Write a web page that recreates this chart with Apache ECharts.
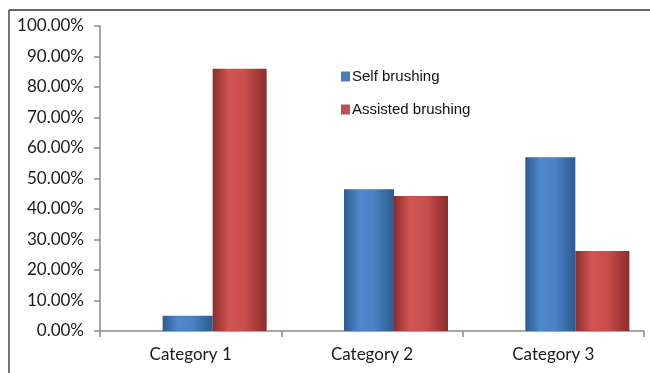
<!DOCTYPE html>
<html>
<head>
<meta charset="utf-8">
<script src="https://cdn.jsdelivr.net/npm/echarts@6/dist/echarts.min.js"></script>
<style>
  html, body { margin: 0; padding: 0; background: #fff; }
  #chart { width: 650px; height: 373px; }
</style>
</head>
<body>
<div id="chart"></div>
<script>
// Share of patients by brushing type, per category (percent)
const categories = ['Category 1', 'Category 2', 'Category 3'];
const selfBrushing = [5, 46.5, 57];
const assistedBrushing = [86, 44.3, 26.2];
const seriesNames = ['Self brushing', 'Assisted brushing'];

// Cylinder-like horizontal shading for each bar colour
function shade(dark, light, mid) {
  return new echarts.graphic.LinearGradient(0, 0, 1, 0, [
    { offset: 0, color: dark },
    { offset: 0.3, color: light },
    { offset: 0.6, color: mid },
    { offset: 1, color: dark }
  ]);
}

const chart = echarts.init(document.getElementById('chart'), null, { renderer: 'canvas' });
const font = 'Lato, "Open Sans", sans-serif';

chart.setOption({
  animation: false,
  backgroundColor: '#ffffff',
  grid: { left: 100, right: 6, top: 26, bottom: 42, containLabel: false },
  legend: {
    orient: 'vertical',
    left: 336,
    top: 64,
    itemWidth: 9,
    itemHeight: 10,
    itemGap: 18,
    icon: 'rect',
    data: [
      { name: seriesNames[0], itemStyle: { color: '#4a7ebb' } },
      { name: seriesNames[1], itemStyle: { color: '#c0504d' } }
    ],
    textStyle: { fontFamily: '"Liberation Sans", Arial, sans-serif', fontSize: 15, color: '#111', padding: [0, 0, 0, -3] }
  },
  xAxis: {
    type: 'category',
    data: categories,
    axisLine: { lineStyle: { color: '#8a8a8a', width: 1.5 } },
    axisTick: { show: true, length: 6, lineStyle: { color: '#8a8a8a', width: 1.5 } },
    axisLabel: { fontFamily: font, fontSize: 17, color: '#1a1a1a', margin: 15 }
  },
  yAxis: {
    type: 'value',
    min: 0,
    max: 100,
    interval: 10,
    axisLine: { show: true, lineStyle: { color: '#8a8a8a', width: 1.5 } },
    axisTick: { show: true, length: 6, lineStyle: { color: '#8a8a8a', width: 1.5 } },
    splitLine: { show: false },
    axisLabel: {
      fontFamily: font, fontSize: 17, color: '#1a1a1a', margin: 16,
      formatter: v => v.toFixed(2) + '%'
    }
  },
  series: [
    {
      // empty slot that keeps the visible pair to the right of each category centre
      name: 'spacer',
      type: 'bar',
      barWidth: 48,
      barGap: '0%',
      data: categories.map(() => null),
      silent: true
    },
    {
      name: seriesNames[0],
      type: 'bar',
      barWidth: 50,
      barGap: '0%',
      data: selfBrushing,
      itemStyle: { color: shade('#2b5a90', '#4f88ca', '#4a82c3') }
    },
    {
      name: seriesNames[1],
      type: 'bar',
      barWidth: 54,
      barGap: '0%',
      data: assistedBrushing,
      itemStyle: { color: shade('#8a2d2c', '#d25553', '#c84e4c') }
    }
  ],
  graphic: [
    { type: 'line', shape: { x1: 9, y1: 10, x2: 650, y2: 10 }, style: { stroke: '#666', lineWidth: 2 } },
    { type: 'line', shape: { x1: 9, y1: 10, x2: 9, y2: 373 }, style: { stroke: '#444', lineWidth: 1.5 } }
  ]
});
</script>
</body>
</html>
